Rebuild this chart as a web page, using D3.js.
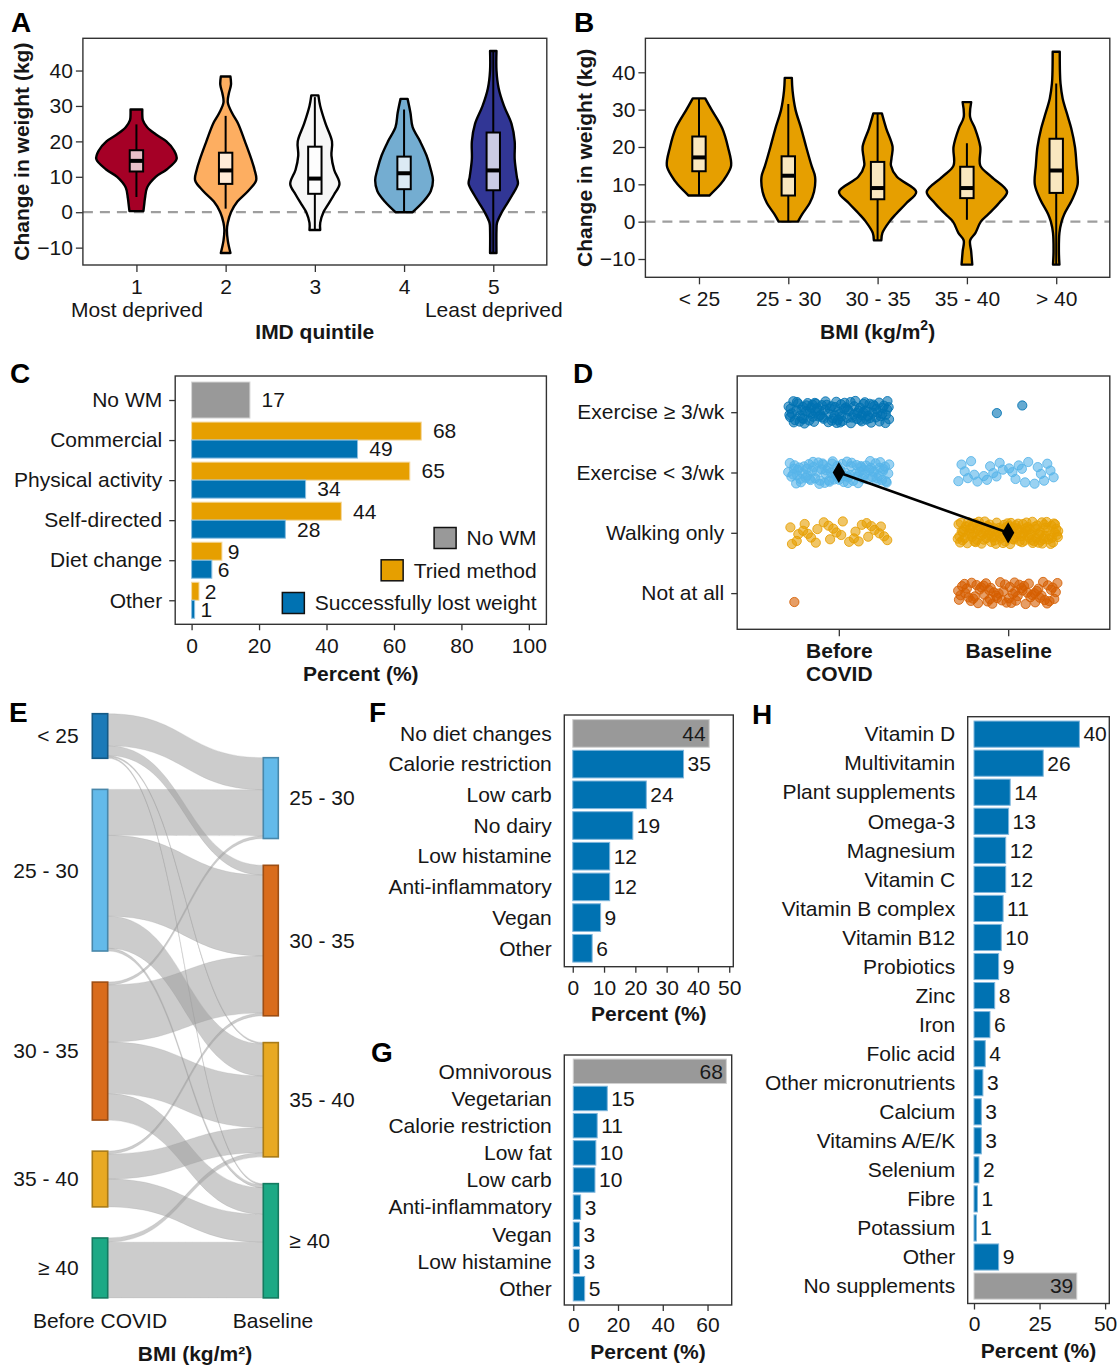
<!DOCTYPE html>
<html><head><meta charset="utf-8">
<script src="https://cdn.jsdelivr.net/npm/d3@7"></script>
<style>
body{margin:0;background:#fff}
svg{display:block}
text{font-family:"Liberation Sans",Arial,Helvetica,sans-serif}
</style></head>
<body><svg id="c" width="1118" height="1365"></svg>
<script>
// ================= DATA =================
// Panel A: change in weight by IMD quintile (violin outline: [value, relative half-width]; box: [lo,q1,median,q3,hi])
const imdCats = ["1","2","3","4","5"];
const imdSub = ["Most deprived","","","","Least deprived"];
const imdColors = ["#A50026","#FDAE61","#F7F7F7","#74ADD1","#313695"];
const imdViolin1 = [[29,5.5],[27.5,5.5],[26,6],[24,10],[22,18],[20,28],[17.5,35],[15,37.5],[12,28],[10,18],[7,10],[4,8],[1.5,7],[0.3,6.5]];
const imdViolin2 = [[38.3,4.5],[36,5],[33.5,3],[31,2],[28,6],[25,11.7],[20,18],[15,24],[12,27],[9,28.5],[6,21],[3,11],[0,5],[-3,2],[-5,1.2],[-8,2],[-11.5,4.5]];
const imdViolin3 = [[33,3.3],[30,5],[25,10],[20,16],[16,15.5],[12,18],[8,23],[5,18],[2,12],[0,8],[-3,5],[-5,5]];
const imdViolin4 = [[32,3.3],[28,6],[24,8],[20,15],[16,21],[12,25],[9,27],[6,25],[3,18],[0,8]];
const imdViolin5 = [[45.5,3],[40,3],[35,5],[30,10],[25,17],[20,20],[15,20],[10,22],[8,23],[5,18],[2,12],[0,8],[-3,3.5],[-5,3],[-11.5,3]];
const imdBoxes = [[4.3,11.5,14.5,17.5,24.8],[1,8,11.8,16.8,27.2],[-4.8,5.2,9.5,18.5,32.5],[0,6.5,11,15.7,29],[-11.5,6.2,11.8,22.5,45.5]];

// Panel B: change in weight by BMI group
const bmiCats = ["< 25","25 - 30","30 - 35","35 - 40","> 40"];
const bmiViolin1 = [[33,5.8],[30,11.7],[25,21.7],[20,27],[15,30],[12,25],[10,20],[7,9.7]];
const bmiViolin2 = [[38.5,3.3],[35,4],[30,6.7],[25,12],[20,16.7],[15,21.7],[12,25],[8,24],[5,20],[2,13],[0,9]];
const bmiViolin3 = [[29,4],[25,8],[20,14],[17,13],[15,12.5],[12,18],[8,36],[5,27],[2,17],[0,11],[-3,4.5],[-5,3.5]];
const bmiViolin4 = [[32,4],[28,3],[25,7.5],[20,12.5],[15,12.5],[12,23],[8,37.5],[5,30],[2,20],[0,13],[-3,8],[-5,3],[-8,4],[-11.5,5]];
const bmiViolin5 = [[45.5,3.3],[40,3.5],[37,4],[33,6],[28,11],[25,14],[20,17.5],[15,19],[10,20],[6,15],[2,7.5],[0,5],[-3,3],[-8,2.5],[-11.5,3]];
const bmiBoxes = [[7,13.5,17.2,22.8,33],[0,7,12.3,17.5,31.5],[-5,6,9,16,29],[0.5,6.3,9,14.7,21],[-11.5,7.7,13.7,22.2,37]];
const weightTicks = [-10,0,10,20,30,40];
const weightDomain = [-14.9,49.1];

// Panel C: weight management methods
const wmCats = ["No WM","Commercial","Physical activity","Self-directed","Diet change","Other"];
const wmNoWM = 17.3;
const wmTried = [68.1,64.7,44.4,9.0,2.2];
const wmSuccess = [49.2,33.8,27.8,6.0,0.9];
const wmLegend = ["No WM","Tried method","Successfully lost weight"];
const wmTicks = [0,20,40,60,80,100];

// Panel D: exercise frequency (counts of respondents per level)
const exLevels = ["Exercise \u2265 3/wk","Exercise < 3/wk","Walking only","Not at all"];
const exTimes = ["Before COVID","Baseline"];
const exCountsBefore = [105,90,30,1];
const exCountsBaseline = [2,28,125,66];
const exMedians = ["Exercise < 3/wk","Walking only"];
const exColors = ["#0072B2","#56B4E9","#E69F00","#D55E00"];

// Panel E: BMI transitions (rows: before COVID group, cols: baseline group)
const bmiBefore = ["< 25","25 - 30","30 - 35","35 - 40","\u2265 40"];
const bmiBaseline = ["25 - 30","30 - 35","35 - 40","\u2265 40"];
const bmiFlows = [[23,7,1,1],[33,58,23,2],[2,41,37,19],[0,2,18,20],[0,0,3,40]];
const bmiNodeColors = ["#1B7AB8","#63BAEA","#D96C1C","#E8A923","#1CA985"];

// Panel F: diet changes
const dietCats = ["No diet changes","Calorie restriction","Low carb","No dairy","Low histamine","Anti-inflammatory","Vegan","Other"];
const dietVals = [43.6,35.4,23.5,19.2,11.8,11.8,8.9,6.2];
const dietTicks = [0,10,20,30,40,50];

// Panel G: usual diet
const habitCats = ["Omnivorous","Vegetarian","Calorie restriction","Low fat","Low carb","Anti-inflammatory","Vegan","Low histamine","Other"];
const habitVals = [68.4,15.2,10.7,10.1,9.7,3.3,2.8,2.8,5.1];
const habitTicks = [0,20,40,60];

// Panel H: supplements
const suppCats = ["Vitamin D","Multivitamin","Plant supplements","Omega-3","Magnesium","Vitamin C","Vitamin B complex","Vitamin B12","Probiotics","Zinc","Iron","Folic acid","Other micronutrients","Calcium","Vitamins A/E/K","Selenium","Fibre","Potassium","Other","No supplements"];
const suppVals = [40.2,26.4,13.8,13.2,12.1,12.1,11.1,10.4,9.4,7.9,6.1,4.3,3.4,2.8,2.8,1.9,1.3,0.9,9.4,39.2];
const suppTicks = [0,25,50];

const greyCats = ["No diet changes","Omnivorous","No supplements"];

// ================= DRAWING =================
const svg = d3.select("#c");
const TXT = "#161616";
const FS = 21;
const BLUE = "#0072B2", ORANGE = "#E69F00", GREY = "#999999";

function styleAxis(g, bold){
  g.select(".domain").remove();
  g.selectAll(".tick line").attr("stroke","#333").attr("stroke-width",1.3);
  g.selectAll(".tick text").attr("font-size",FS).attr("fill",TXT)
    .attr("font-weight", bold ? "bold" : null);
}
function frame(x0,y0,x1,y1){
  svg.append("rect").attr("x",x0).attr("y",y0).attr("width",x1-x0).attr("height",y1-y0)
    .attr("fill","none").attr("stroke","#333").attr("stroke-width",1.4);
}
function text(t,x,y,o={}){
  return svg.append("text").attr("x",x).attr("y",y).text(t)
    .attr("font-size",o.fs||FS).attr("fill",o.fill||TXT)
    .attr("font-weight",o.bold?"bold":null)
    .attr("text-anchor",o.anchor||"start")
    .attr("transform",o.rot?`rotate(-90,${x},${y})`:null);
}
function panelLetter(t,x,y){ text(t,x,y,{fs:28,bold:true,fill:"#000"}); }

// ---------- violin panels ----------
function violinPanel(o){
  const x = d3.scalePoint().domain(o.cats).range([o.x0,o.x1]).padding(0.6);
  const y = d3.scaleLinear().domain(weightDomain).range([o.y1,o.y0]);
  const step = x.step();
  const w = d3.scaleLinear().domain([0,37.5]).range([0,0.45*step]);
  svg.append("line").attr("x1",o.x0).attr("x2",o.x1).attr("y1",y(0)).attr("y2",y(0))
    .attr("stroke","#9e9e9e").attr("stroke-width",2.2).attr("stroke-dasharray","10,7");
  o.cats.forEach((c,i)=>{
    const cx = x(c);
    const area = d3.area().y(d=>y(d[0])).x0(d=>cx-w(d[1])).x1(d=>cx+w(d[1])).curve(d3.curveCatmullRom);
    svg.append("path").attr("d",area(o.violins[i])).attr("fill",o.colors[i])
      .attr("stroke","#000").attr("stroke-width",2.4).attr("stroke-linejoin","round");
    const [lo,q1,med,q3,hi] = o.boxes[i];
    const bw = 0.15*step;
    svg.append("line").attr("x1",cx).attr("x2",cx).attr("y1",y(lo)).attr("y2",y(q1)).attr("stroke","#000").attr("stroke-width",2);
    svg.append("line").attr("x1",cx).attr("x2",cx).attr("y1",y(q3)).attr("y2",y(hi)).attr("stroke","#000").attr("stroke-width",2);
    svg.append("rect").attr("x",cx-bw/2).attr("width",bw).attr("y",y(q3)).attr("height",y(q1)-y(q3))
      .attr("fill","#fff").attr("fill-opacity",0.75).attr("stroke","#000").attr("stroke-width",2);
    svg.append("line").attr("x1",cx-bw/2).attr("x2",cx+bw/2).attr("y1",y(med)).attr("y2",y(med))
      .attr("stroke","#000").attr("stroke-width",4);
  });
  const ya = svg.append("g").attr("transform",`translate(${o.x0},0)`)
    .call(d3.axisLeft(y).tickValues(weightTicks).tickSize(7).tickPadding(3));
  styleAxis(ya);
  const xa = svg.append("g").attr("transform",`translate(0,${o.y1})`)
    .call(d3.axisBottom(x).tickSize(7).tickPadding(7));
  styleAxis(xa);
  frame(o.x0,o.y0,o.x1,o.y1);
  return {x,y,xa};
}

// Panel A
const A = violinPanel({x0:82.9,x1:546.8,y0:38.3,y1:265,cats:imdCats,
  violins:[imdViolin1,imdViolin2,imdViolin3,imdViolin4,imdViolin5],boxes:imdBoxes,colors:imdColors});
A.xa.selectAll(".tick text").each(function(d,i){
  if(imdSub[i]) d3.select(this).append("tspan").attr("x",0).attr("dy","1.12em").text(imdSub[i]);
});
text("IMD quintile",314.8,339,{bold:true,anchor:"middle"});
text("Change in weight (kg)",29,151.7,{bold:true,anchor:"middle",rot:true});
panelLetter("A",11,32);

// Panel B
violinPanel({x0:645.4,x1:1109.8,y0:38.3,y1:277.3,cats:bmiCats,
  violins:[bmiViolin1,bmiViolin2,bmiViolin3,bmiViolin4,bmiViolin5],boxes:bmiBoxes,
  colors:bmiCats.map(()=>ORANGE)});
{
  const t = text("BMI ",877.6,339,{bold:true,anchor:"middle"});
  t.append("tspan").text("(kg/m");
  t.append("tspan").text("2").attr("font-size",14).attr("dy",-9);
  t.append("tspan").text(")").attr("dy",9);
}
text("Change in weight (kg)",592,157.8,{bold:true,anchor:"middle",rot:true});
panelLetter("B",574,32);

// ---------- Panel C ----------
{
  const x0=175.2,x1=546.4,y0=376,y1=624.3;
  const x = d3.scaleLinear().domain([-4.86,105.2]).range([x0,x1]);
  const y = d3.scalePoint().domain(wmCats).range([y0,y1]).padding(0.6);
  const bh = 0.9*y.step();
  const addLabel = (v,yc)=>{
    const t = text(Math.round(v),0,yc,{}).attr("dy","0.35em");
    const tw = t.node().getComputedTextLength();
    t.attr("x",x(v)+0.5*tw);
  };
  svg.append("rect").attr("x",x(0)).attr("y",y("No WM")-bh/2).attr("width",x(wmNoWM)-x(0)).attr("height",bh)
    .attr("fill",GREY).attr("stroke","#d6d6d6").attr("stroke-width",1);
  addLabel(wmNoWM,y("No WM"));
  wmCats.slice(1).forEach((c,i)=>{
    const yc = y(c);
    svg.append("rect").attr("x",x(0)).attr("y",yc-bh/2).attr("width",x(wmTried[i])-x(0)).attr("height",bh/2)
      .attr("fill",ORANGE).attr("stroke","#f5d9a0").attr("stroke-width",1);
    svg.append("rect").attr("x",x(0)).attr("y",yc).attr("width",x(wmSuccess[i])-x(0)).attr("height",bh/2)
      .attr("fill",BLUE).attr("stroke","#8cbfe0").attr("stroke-width",1);
    addLabel(wmTried[i],yc-bh/4);
    addLabel(wmSuccess[i],yc+bh/4);
  });
  frame(x0,y0,x1,y1);
  const xa = svg.append("g").attr("transform",`translate(0,${y1})`)
    .call(d3.axisBottom(x).tickValues(wmTicks).tickSize(6).tickPadding(8));
  styleAxis(xa);
  const ya = svg.append("g").attr("transform",`translate(${x0},0)`)
    .call(d3.axisLeft(y).tickSize(6).tickPadding(7));
  styleAxis(ya);
  text("Percent (%)",(x0+x1)/2,680.8,{bold:true,anchor:"middle"});
  const legColors = [GREY,ORANGE,BLUE];
  const legY = [538,570.3,603];
  wmLegend.forEach((l,i)=>{
    const t = text(l,536.6,legY[i],{anchor:"end"}).attr("dy","0.35em");
    const tw = t.node().getComputedTextLength();
    svg.append("rect").attr("x",536.6-tw-10.5-22).attr("y",legY[i]-10.5).attr("width",22).attr("height",21)
      .attr("fill",legColors[i]).attr("stroke","#111").attr("stroke-width",1.5);
  });
  panelLetter("C",10,383);
}

// ---------- Panel D ----------
{
  const x0=737.2,x1=1109.8,y0=376,y1=629.3;
  const x = d3.scalePoint().domain(exTimes).range([x0,x1]).padding(0.6);
  const y = d3.scalePoint().domain(exLevels).range([y0,y1]).padding(0.6);
  // deterministic low-discrepancy jitter (layout only)
  const halton = (i,b)=>{let f=1,r=0;while(i>0){f/=b;r+=f*(i%b);i=Math.floor(i/b);}return r;};
  const counts = [exCountsBefore,exCountsBaseline];
  let idx = 8;
  const pts = [];
  for(let l=exLevels.length-1;l>=0;l--){
    for(let t=0;t<exTimes.length;t++){
      for(let k=0;k<counts[t][l];k++){
        pts.push({t:exTimes[t],l:exLevels[l],c:exColors[l],jx:halton(idx,2)*2-1,jy:halton(idx,3)*2-1});
        idx++;
      }
    }
  }
  svg.append("g").selectAll("circle").data(pts).join("circle")
    .attr("cx",d=>x(d.t)+d.jx*0.3*x.step())
    .attr("cy",d=>y(d.l)+d.jy*0.19*y.step())
    .attr("r",4.6)
    .attr("fill",d=>d.c).attr("fill-opacity",0.6)
    .attr("stroke",d=>d.c).attr("stroke-opacity",0.85).attr("stroke-width",1);
  const med = exTimes.map((t,i)=>[x(t),y(exMedians[i])]);
  svg.append("path").attr("d",d3.line()(med)).attr("stroke","#000").attr("stroke-width",2.6).attr("fill","none");
  med.forEach(p=>svg.append("path").attr("d",d3.symbol(d3.symbolDiamond,130)())
    .attr("transform",`translate(${p[0]},${p[1]})`).attr("fill","#000"));
  frame(x0,y0,x1,y1);
  const ya = svg.append("g").attr("transform",`translate(${x0},0)`)
    .call(d3.axisLeft(y).tickSize(6).tickPadding(7));
  styleAxis(ya);
  const xa = svg.append("g").attr("transform",`translate(0,${y1})`)
    .call(d3.axisBottom(x).tickSize(7).tickPadding(7));
  styleAxis(xa,true);
  xa.selectAll(".tick text").each(function(d){
    if(d==="Before COVID"){
      const parts = d.split(" ");
      const el = d3.select(this); el.text(null);
      el.append("tspan").attr("x",0).text(parts[0]);
      el.append("tspan").attr("x",0).attr("dy","1.1em").text(parts[1]);
    }
  });
  panelLetter("D",573,383);
}

// ---------- Panel E (sankey) ----------
{
  const xL0=92.3, xL1=107.7, xR0=263.3, xR1=278.3;
  const total = d3.sum(bmiFlows.flat());
  const k = d3.scaleLinear().domain([0,total]).range([0,459.8]);
  const gapL = 31.1, gapR = 26.8, bottom = 1297.9;
  let yy = bottom - (k(total) + gapL*(bmiBefore.length-1));
  const left = bmiBefore.map((g,i)=>{const h=k(d3.sum(bmiFlows[i]));const n={g,y0:yy,y1:yy+h,c:bmiNodeColors[i]};yy+=h+gapL;return n;});
  let yr = bottom - (k(total) + gapR*(bmiBaseline.length-1));
  const right = bmiBaseline.map((g,j)=>{const h=k(d3.sum(bmiFlows,r=>r[j]));const n={g,y0:yr,y1:yr+h,c:bmiNodeColors[bmiBefore.indexOf(g)]};yr+=h+gapR;return n;});
  const lc = left.map(n=>n.y0), rc = right.map(n=>n.y0);
  const xm = (xL1+xR0)/2;
  const flows = [];
  bmiFlows.forEach((row,i)=>row.forEach((v,j)=>{
    if(v<=0) return;
    const h=k(v);
    const a0=lc[i]; lc[i]+=h; const b0=rc[j]; rc[j]+=h;
    flows.push({a0,a1:a0+h,b0,b1:b0+h});
  }));
  svg.append("g").selectAll("path").data(flows).join("path")
    .attr("d",f=>`M${xL1},${f.a0}C${xm},${f.a0} ${xm},${f.b0} ${xR0},${f.b0}L${xR0},${f.b1}C${xm},${f.b1} ${xm},${f.a1} ${xL1},${f.a1}Z`)
    .attr("fill","#9a9a9a").attr("fill-opacity",0.5)
    .attr("stroke","#9a9a9a").attr("stroke-opacity",0.35).attr("stroke-width",0.6);
  const drawNode=(n,xa,xb)=>svg.append("rect").attr("x",xa).attr("y",n.y0).attr("width",xb-xa).attr("height",n.y1-n.y0)
    .attr("fill",n.c).attr("stroke",d3.color(n.c).darker(0.9)).attr("stroke-width",1.6);
  left.forEach(n=>{drawNode(n,xL0,xL1); text(n.g,78.7,(n.y0+n.y1)/2,{anchor:"end"}).attr("dy","0.35em");});
  right.forEach(n=>{drawNode(n,xR0,xR1); text(n.g,289.3,(n.y0+n.y1)/2,{}).attr("dy","0.35em");});
  text(exTimes[0],100,1328,{anchor:"middle"});
  text(exTimes[1],273,1328,{anchor:"middle"});
  text("BMI (kg/m\u00B2)",195,1360.5,{bold:true,anchor:"middle"});
  panelLetter("E",9,722);
}

// ---------- Panels F, G, H ----------
function hbarPanel(o){
  const x = d3.scaleLinear().domain(o.domain).range([o.x0,o.x1]);
  const y = d3.scalePoint().domain(o.cats).range([o.y0,o.y1]).padding(0.6);
  const bh = 0.9*y.step();
  o.cats.forEach((c,i)=>{
    const v = o.vals[i], grey = greyCats.includes(c);
    svg.append("rect").attr("x",x(0)).attr("y",y(c)-bh/2).attr("width",x(v)-x(0)).attr("height",bh)
      .attr("fill",grey?GREY:BLUE).attr("stroke",grey?"#d0d0d0":"#7fb6dc").attr("stroke-width",1);
    if(grey) text(Math.round(v),x(v)-3.5,y(c),{anchor:"end",fill:"#1a1a1a"}).attr("dy","0.35em");
    else text(Math.round(v),x(v)+4,y(c),{}).attr("dy","0.35em");
  });
  frame(o.x0,o.y0,o.x1,o.y1);
  const xa = svg.append("g").attr("transform",`translate(0,${o.y1})`)
    .call(d3.axisBottom(x).tickValues(o.ticks).tickSize(6).tickPadding(o.xpad));
  styleAxis(xa);
  const ya = svg.append("g").attr("transform",`translate(${o.x0},0)`)
    .call(d3.axisLeft(y).tickSize(0).tickPadding(12.5));
  styleAxis(ya);
  text("Percent (%)",(o.x0+o.x1)/2,o.ty,{bold:true,anchor:"middle"});
}
hbarPanel({x0:564.3,x1:733.3,y0:715,y1:966.7,cats:dietCats,vals:dietVals,domain:[-2.7,51.3],ticks:dietTicks,xpad:7,ty:1020.8});
panelLetter("F",369,722);
hbarPanel({x0:564.3,x1:731.7,y0:1055,y1:1305,cats:habitCats,vals:habitVals,domain:[-4,70.8],ticks:habitTicks,xpad:6,ty:1359});
panelLetter("G",371,1062);
hbarPanel({x0:967.7,x1:1109.3,y0:716.7,y1:1303.5,cats:suppCats,vals:suppVals,domain:[-2.4,51.6],ticks:suppTicks,xpad:7,ty:1358});
panelLetter("H",752,724);
</script>
</body></html>
